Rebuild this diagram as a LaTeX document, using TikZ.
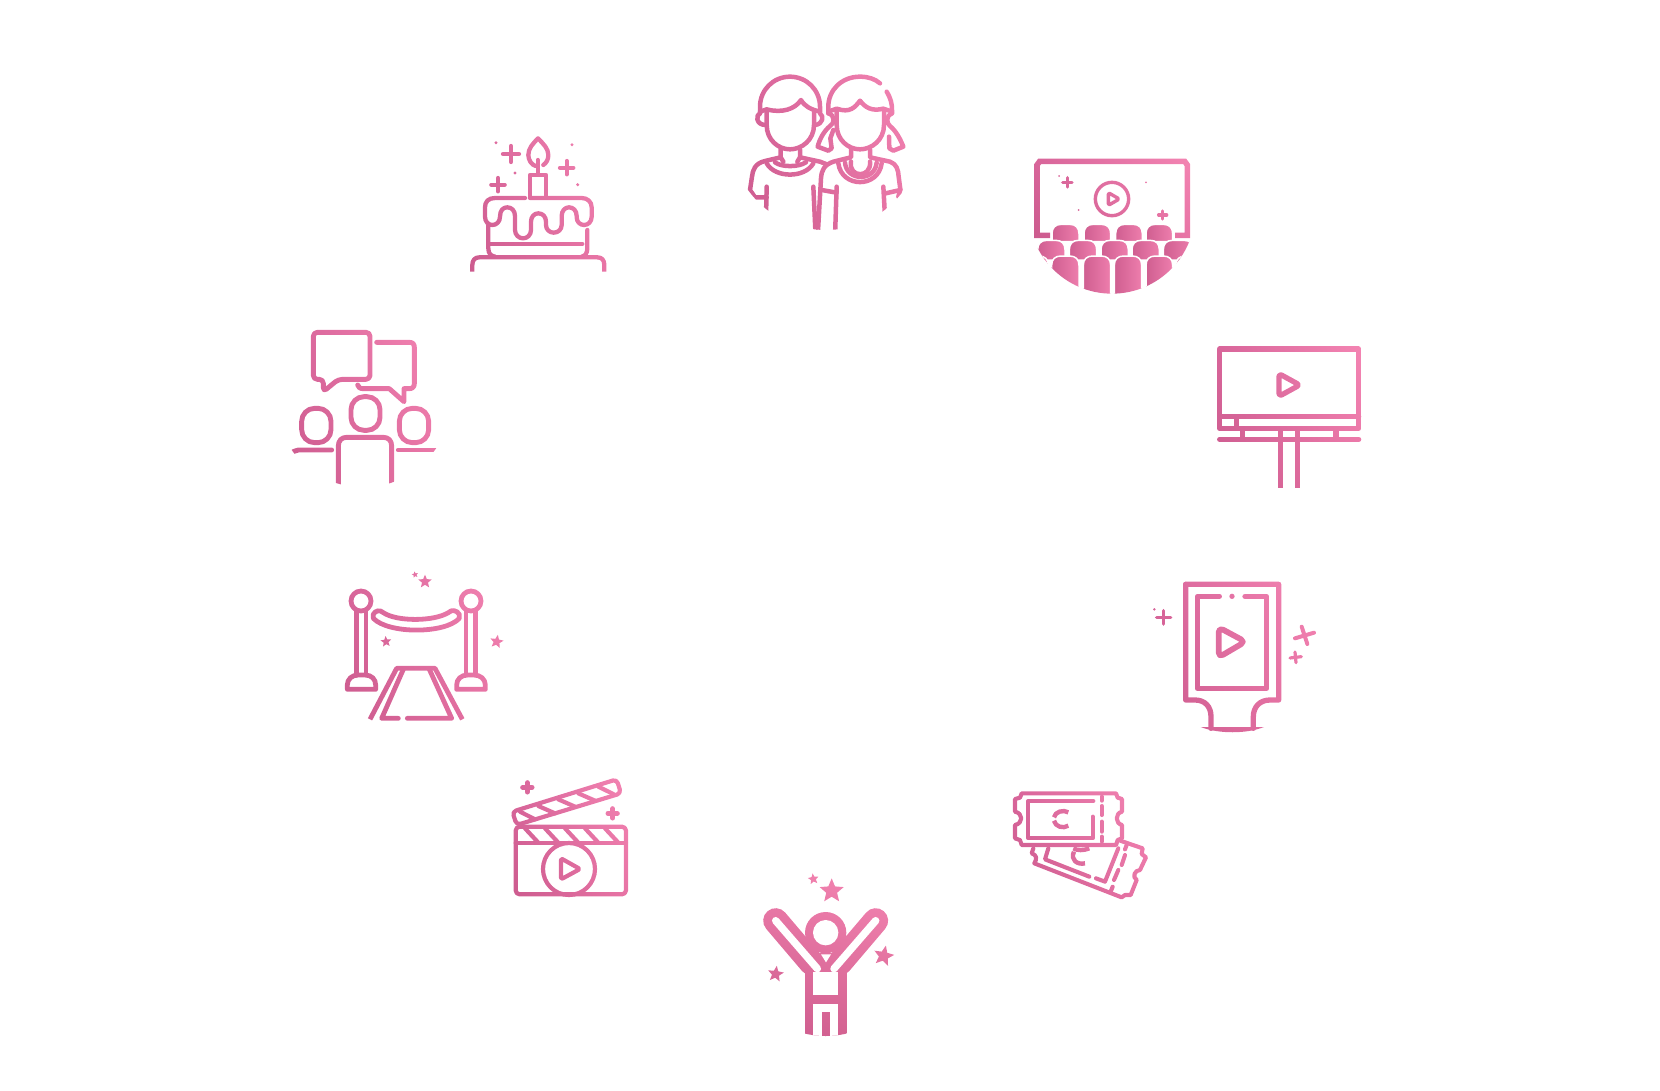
\documentclass[tikz,border=0pt]{standalone}
\usetikzlibrary{shadings}
\definecolor{gdark}{HTML}{CB5A8D}
\definecolor{gmida}{HTML}{D8659A}
\definecolor{gmidb}{HTML}{E874A5}
\definecolor{glight}{HTML}{F485B3}
\definecolor{vlr}{HTML}{D86793}
\definecolor{vul}{HTML}{EE7DAA}
\definecolor{sl}{HTML}{CF5E90}
\definecolor{sr}{HTML}{EE7EAD}
\tikzset{
  zm/.style 2 args={shift={(#1pt,-#2pt)},x=0.33333pt,y=-0.33333pt},
  ic/.style={draw=black,fill=none,line width=4.9pt,line cap=round,line join=round}
}
\newcommand\ppl[3]{\draw (#1-#3,#2)--(#1+#3,#2) (#1,#2-#3)--(#1,#2+#3);}
\newcommand\pdt[3]{\fill[black] (#1,#2) circle[radius=#3];}
\newcommand\pst[4]{\fill[black,shift={(#1,#2)},rotate=#4+180] (90:#3)--(126:0.45*#3)--(162:#3)--(198:0.45*#3)--(234:#3)--(270:0.45*#3)--(306:#3)--(342:0.45*#3)--(18:#3)--(54:0.45*#3)--cycle;}
\newcommand\seat[4]{\path[shade,left color=sl,right color=sr,draw=white,line width=1.5pt] (#1,#4)--(#1,#3+28) .. controls (#1,#3+10) and (#1+10,#3) .. (#1+28,#3)--(#2-28,#3) .. controls (#2-10,#3) and (#2,#3+10) .. (#2,#3+28)--(#2,#4)--cycle;}
\newcommand\grad[4]{\shade[lower left=gdark,upper right=glight,upper left=gmida,lower right=gmidb] (#1,#2) rectangle (#3,#4);}
\newcommand\gradv[4]{\shade[lower left=gdark,upper right=glight,upper left=vul,lower right=vlr] (#1,#2) rectangle (#3,#4);}
\begin{document}
\begin{tikzpicture}
\useasboundingbox (0pt,0pt) rectangle (1660pt,-1090pt);
\fill[white] (0pt,0pt) rectangle (1660pt,-1090pt);
% ---- kids and cinema
\begin{scope}[zm={720}{50}]
 \begin{scope}
  \clip (318,252) circle[radius=288];
  \begin{scope}[ic,line width=4.5pt]
  % boy
  \draw (120,190)--(120,170) .. controls (120,120) and (160,80) .. (210,80) .. controls (260,80) and (300,120) .. (300,170)--(300,185);
  \draw (120,185)--(140,178) .. controls (185,190) and (225,178) .. (243,150) .. controls (255,170) and (272,178) .. (300,185);
  \draw (140,180)--(140,225) .. controls (140,270) and (175,298) .. (210,298) .. controls (245,298) and (282,270) .. (282,225)--(282,185);
  \draw (120,190) .. controls (106,195) and (108,225) .. (137,225);
  \draw (300,190) .. controls (312,198) and (310,222) .. (285,225);
  \draw (182,298)--(182,322)--(135,333) .. controls (105,340) and (98,360) .. (96,380)--(90,420)--(105,442)--(140,442);
  \draw (240,298)--(240,322)--(300,335)--(318,342);
  \draw (140,340) .. controls (165,385) and (255,385) .. (280,340);
  \draw (165,337) .. controls (185,352) and (235,352) .. (258,337);
  \draw (182,322)--(190,335) (240,322)--(232,335);
  \draw (140,410)--(138,500);
  \draw (280,410)--(287,560);
  % girl
  \draw (325,190)--(325,170) .. controls (325,120) and (365,80) .. (420,80) .. controls (445,80) and (465,87) .. (480,100);
  \draw (500,125) .. controls (512,145) and (516,160) .. (516,180)--(516,190);
  \draw (325,185)--(350,176) .. controls (390,190) and (405,172) .. (420,152) .. controls (435,172) and (455,185) .. (490,176)--(514,184);
  \draw (350,180)--(350,225) .. controls (350,270) and (385,298) .. (420,298) .. controls (455,298) and (492,270) .. (492,225)--(492,185);
  \draw (325,190) .. controls (345,195) and (345,220) .. (330,228) .. controls (310,245) and (298,270) .. (293,290)--(325,302)--(335,295)--(331,265) (340,240)--(331,265);
  \draw (516,190) .. controls (498,195) and (498,220) .. (510,228) .. controls (530,245) and (542,270) .. (550,290)--(520,302)--(508,295)--(507,260);
  \draw (393,298)--(393,322)--(340,335) .. controls (312,345) and (305,360) .. (303,385)--(293,560);
  \draw (450,298)--(450,322)--(510,335) .. controls (530,342) and (535,360) .. (536,380)--(541,418)--(535,440);
  \draw (355,340) .. controls (365,415) and (475,415) .. (485,340);
  \draw (393,335) .. controls (385,385) and (455,385) .. (450,335);
  \draw (375,338) .. controls (380,395) and (465,395) .. (470,338);
  \draw (350,410)--(345,560);
  \draw (305,420)--(350,428);
  \draw (490,410)--(495,500);
  \draw (497,430)--(541,420);
  \end{scope}
 \end{scope}
 % cinema
 \begin{scope}[ic]
  \draw[line cap=butt,line join=miter,line width=5.6pt] (990,556)--(951,556)--(951,345)--(959,334)--(1394,334)--(1402,345)--(1402,556)--(1365,556);
 \end{scope}
 \begin{scope}[ic,line width=3.4pt]
  \draw (1176,447) circle[radius=50];
  \draw[rounded corners=1.5pt] (1165,428)--(1198,447)--(1165,466)--cycle;
  \ppl{1042}{397}{14} \ppl{1328}{495}{12}
 \end{scope}
 \pdt{1017}{378}{3}\pdt{1278}{397}{3}\pdt{1076}{480}{3}
\end{scope}
% ---- cake and chat
\begin{scope}[zm={270}{110}]
 \begin{scope}[ic,line width=4.3pt]
  \draw (797,168) .. controls (785,165) and (775,150) .. (775,135) .. controls (775,115) and (788,102) .. (804,85) .. controls (820,102) and (835,115) .. (835,135) .. controls (835,148) and (830,158) .. (820,165);
  \draw (803,150)--(803,190);
  \draw (780,262)--(780,195)--(828,195)--(828,262);
  \draw (765,264)--(675,264) .. controls (655,264) and (645,275) .. (645,292)--(645,320) .. controls (645,335) and (655,345) .. (667,345) .. controls (680,345) and (690,335) .. (690,320) .. controls (690,300) and (700,292) .. (712,292) .. controls (725,292) and (735,302) .. (735,318)--(735,360) .. controls (735,375) and (747,385) .. (759,385) .. controls (772,385) and (783,375) .. (783,360)--(783,335) .. controls (783,320) and (793,310) .. (805,310) .. controls (818,310) and (828,320) .. (828,335)--(828,345) .. controls (828,358) and (838,368) .. (851,368) .. controls (865,368) and (875,358) .. (875,345)--(875,318) .. controls (875,302) and (885,292) .. (897,292) .. controls (910,292) and (920,302) .. (920,318)--(920,322) .. controls (920,335) and (930,345) .. (942,345) .. controls (955,345) and (965,335) .. (965,320)--(965,292) .. controls (965,275) and (952,264) .. (935,264)--(780,264);
  \draw (655,345)--(655,415) .. controls (655,430) and (662,438) .. (675,440);
  \draw (952,360)--(952,415) .. controls (952,430) and (945,438) .. (935,440);
  \draw (655,402)--(937,402);
  \draw[line cap=butt] (607,485)--(607,465) .. controls (607,450) and (615,442) .. (628,442)--(982,442) .. controls (995,442) and (1003,450) .. (1003,465)--(1003,485);
  \ppl{723}{132}{24}\ppl{890}{173}{20}\ppl{684}{224}{20}
 \end{scope}
 \pdt{678}{98}{5}\pdt{906}{104}{5}\pdt{735}{189}{5}\pdt{923}{224}{5}
 \begin{scope}
  \clip (280,870) circle[radius=262];
  \begin{scope}[ic]
  \draw[rounded corners=4pt] (205,808)--(160,845)--(160,808)--(130,808)--(130,667)--(300,667)--(300,808)--cycle;
  \draw (320,697)--(418,697) .. controls (428,697) and (433,702) .. (433,712)--(433,820) .. controls (433,830) and (428,836) .. (418,836)--(402,836)--(402,875)--(358,836)--(280,836) .. controls (270,836) and (265,832) .. (263,825);
  \draw[rounded corners=13pt] (243,860) rectangle (330,961);
  \draw[rounded corners=13pt] (95,895) rectangle (183,998);
  \draw[rounded corners=13pt] (388,895) rectangle (476,998);
  \draw (205,1150)--(205,1008) .. controls (205,992) and (215,982) .. (230,982)--(340,982) .. controls (355,982) and (365,992) .. (365,1008)--(365,1150);
  \draw (185,1020)--(85,1020) .. controls (75,1020) and (68,1025) .. (55,1040);
  \draw (385,1020)--(520,1020);
  \end{scope}
 \end{scope}
\end{scope}
% ---- billboard and poster
\begin{scope}[zm={1140}{330}]
 \begin{scope}[ic,line width=5.3pt]
  \draw (239,57) rectangle (656,295);
  \draw (239,260)--(656,260);
  \draw (239,328)--(656,328);
  \draw[line cap=butt] (290,260)--(290,295) (307,295)--(307,328) (588,295)--(588,328);
  \draw[line cap=butt] (422,295)--(422,475) (473,295)--(473,475);
  \draw[rounded corners=3pt] (417,131)--(479,165)--(417,199)--cycle;
  % poster
  \draw (137,763)--(416,763)--(416,1110)--(390,1110) .. controls (360,1110) and (340,1130) .. (340,1160)--(340,1195);
  \draw (137,763)--(137,1110)--(165,1110) .. controls (195,1110) and (213,1130) .. (213,1160)--(213,1195);
  \draw (238,799)--(172,799)--(172,1075)--(380,1075)--(380,799)--(315,799);
  \draw[rounded corners=5pt,line width=5.8pt] (236,892)--(316,935)--(236,982)--cycle;
  \draw[line width=4pt] (465,925)--(522,908) (485,890)--(502,942);
  \draw[line width=3.6pt] (50,862)--(92,862) (71,842)--(71,882);
  \draw[line width=3.2pt] (450,984)--(484,980) (465,966)--(468,998);
 \end{scope}
 \pdt{276}{799}{8}\pdt{43}{838}{4}
 \fill[black] (182,1191)--(372,1191) .. controls (320,1212) and (235,1212) .. (182,1191)--cycle;
\end{scope}
% ---- rope and clapper
\begin{scope}[zm={330}{560}]
 \begin{scope}[ic,line width=4.8pt]
  \draw (93,123) circle[radius=30];
  \draw (423,123) circle[radius=30];
  \draw[line cap=butt] (80,152)--(80,345) (108,152)--(108,345) (408,152)--(408,345) (437,152)--(437,345);
  \draw (52,388)--(52,375) .. controls (52,358) and (65,345) .. (85,345)--(105,345) .. controls (125,345) and (137,358) .. (137,375)--(137,388)--cycle;
  \draw (380,388)--(380,375) .. controls (380,358) and (393,345) .. (413,345)--(432,345) .. controls (452,345) and (466,358) .. (466,375)--(466,388)--cycle;
  \draw (130,163) .. controls (135,152) and (150,148) .. (160,158) .. controls (200,185) and (310,185) .. (355,158) .. controls (365,148) and (380,150) .. (388,163)--(388,175) .. controls (345,222) and (175,222) .. (130,175)--cycle;
  \draw[line cap=butt] (120,478)--(200,325)--(315,325)--(397,478);
  \draw (205,475)--(155,475)--(220,328);
  \draw (232,475)--(365,475)--(298,328);
 \end{scope}
 \pst{285}{65}{21}{0}\pst{255}{44}{10}{10}\pst{168}{245}{17}{5}\pst{500}{245}{21}{-10}
 \begin{scope}[ic,line width=4.2pt]
  \draw[rounded corners=4pt] (557,800) rectangle (888,1003);
  \draw (557,848)--(888,848);
  \draw (585,805)--(625,848) (645,805)--(685,848) (705,805)--(745,848) (765,805)--(805,848) (825,805)--(865,848);
  \draw (717,927) circle[radius=78];
  \draw[rounded corners=2pt] (693,895)--(750,927)--(693,958)--cycle;
  \draw[rounded corners=4pt] (547,755)--(860,658)--(873,700)--(560,795)--cycle;
  \draw (570,755)--(615,778) (625,738)--(675,760) (685,718)--(735,740) (745,700)--(795,722) (805,680)--(850,702);
  \draw[line width=5pt] (578,682)--(606,682) (592,668)--(592,696) (834,760)--(862,760) (848,746)--(848,774);
 \end{scope}
\end{scope}
% ---- person and tickets
\begin{scope}[zm={740}{780}]
 \begin{scope}
  \clip (257,500) circle[radius=268];
  \fill[black] (195,560) rectangle (320,780);
  \fill[black] (257,458) circle[radius=62];
  \draw[black,line width=25pt,line cap=round] (107,422)--(215,549);
  \draw[black,line width=25pt,line cap=round] (407,422)--(299,549);
  \fill[black] (215,520) rectangle (299,590);
  \draw[white,line width=7.4pt,line cap=round] (107,422)--(232,566);
  \draw[white,line width=7.4pt,line cap=round] (407,422)--(282,566);
  \fill[white] (220,576) rectangle (295,645);
  \fill[white] (257,458) circle[radius=38];
  \fill[white] (243,523)--(273,523)--(258,547)--cycle;
  \fill[white] (220,672) rectangle (295,780);
  \fill[black] (245,697) rectangle (270,780);
 \end{scope}
 \pst{275}{333}{38}{0}\pst{220}{297}{17}{8}\pst{431}{528}{32}{-12}\pst{107}{582}{25}{-8}
 \begin{scope}[ic,line width=4.1pt]
  \draw (845,40)--(1128,40)--(1133,53)--(1146,57)--(1146,95) .. controls (1125,100) and (1125,130) .. (1146,135)--(1146,175)--(1133,180)--(1128,195)--(845,195)--(840,180)--(825,175)--(825,135) .. controls (850,130) and (850,100) .. (825,95)--(825,57)--(840,53)--cycle;
  \draw (1060,63)--(865,63)--(865,175)--(1058,175)--(1058,110);
  \draw (1085,50)--(1085,62) (1085,78)--(1085,105) (1085,125)--(1085,155) (1085,170)--(1085,185);
  \draw[line width=4.4pt,line cap=butt] (985,97) .. controls (970,88) and (945,95) .. (942,112) (942,122) .. controls (945,140) and (970,147) .. (985,137);
  \draw (880,205)--(875,220) .. controls (890,225) and (892,235) .. (883,250)--(1145,352)--(1155,345)--(1172,345)--(1190,300) .. controls (1175,290) and (1185,270) .. (1200,270)--(1218,232)--(1205,222)--(1208,205)--(1135,180);
  \draw (925,205)--(915,238)--(1048,290);
  \draw (1068,295)--(1095,305)--(1135,205);
  \draw (1160,195)--(1155,208) (1155,225)--(1145,255) (1135,270)--(1122,300) (1118,320)--(1112,335);
  \draw[line width=4.4pt,line cap=butt] (1000,205) .. controls (1012,212) and (1030,212) .. (1048,205) (1002,215) .. controls (990,240) and (1012,255) .. (1035,250);
 \end{scope}
\end{scope}
% ---- gradient laid over the black strokes
\begin{scope}[blend mode=screen]
 \begin{scope}[zm={720}{50}]
  \grad{70}{60}{570}{560}
  \grad{935}{315}{1420}{580}
 \end{scope}
 \begin{scope}[zm={270}{110}]
  \grad{590}{70}{1015}{490}
  \grad{50}{650}{510}{1135}
 \end{scope}
 \begin{scope}[zm={1140}{330}]
  \grad{225}{40}{670}{485}
  \grad{30}{750}{530}{1215}
 \end{scope}
 \begin{scope}[zm={330}{560}]
  \grad{35}{30}{525}{490}
  \grad{530}{645}{900}{1015}
 \end{scope}
 \begin{scope}[zm={740}{780}]
  \gradv{65}{280}{470}{775}
  \grad{815}{25}{1225}{360}
 \end{scope}
\end{scope}
% ---- cinema seats, each with its own gradient
\begin{scope}[zm={720}{50}]
 \clip (1176,481) circle[radius=250];
 \seat{996}{1077}{523}{575}\seat{1092}{1172}{523}{575}\seat{1187}{1267}{523}{575}\seat{1278}{1358}{523}{575}
 \seat{953}{1035}{571}{630}\seat{1048}{1130}{571}{630}\seat{1143}{1225}{571}{630}\seat{1236}{1318}{571}{630}\seat{1330}{1420}{571}{630}
 \seat{905}{985}{618}{740}\seat{995}{1077}{618}{740}\seat{1090}{1172}{618}{740}\seat{1183}{1265}{618}{740}\seat{1278}{1358}{618}{740}\seat{1368}{1450}{618}{740}
\end{scope}
\end{tikzpicture}
\end{document}
